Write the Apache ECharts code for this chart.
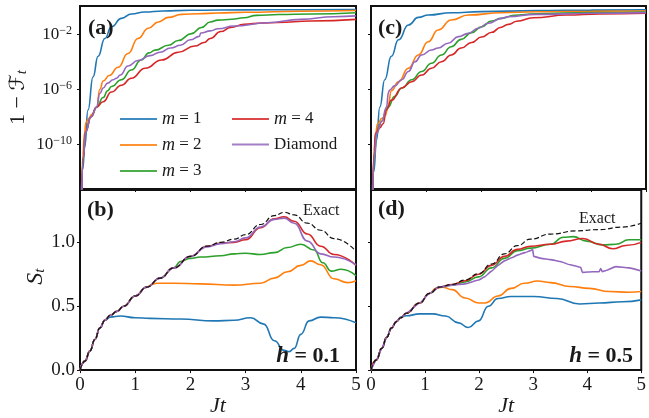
<!DOCTYPE html>
<html><head><meta charset="utf-8">
<script src="https://cdn.jsdelivr.net/npm/echarts@6/dist/echarts.min.js"></script>
<style>html,body{margin:0;padding:0;background:#fff}#c{width:649px;height:418px}</style>
</head><body><div id="c"></div>
<script>
// ---------- data ----------
const seriesNames = ['m = 1', 'm = 2', 'm = 3', 'm = 4', 'Diamond'];
const exactName = 'Exact';
const jtTicks = [0, 1, 2, 3, 4, 5];
const logTicks = [1e-10, 1e-6, 1e-2];
const sTicks = [0, 0.5, 1.0];

// panel (a): [Jt, log10(1 - F_t)]
const aM1 = [[0.02,-14],[0.05,-11.8],[0.085,-10.2],[0.145,-7.5],[0.236,-5.1],[0.327,-3.6],[0.45,-2.3],[0.57,-1.45],[0.75,-0.84],[0.93,-0.52],[1.17,-0.38],[1.5,-0.3],[2,-0.25],[3,-0.22],[4,-0.21],[5,-0.2]];
const aM2 = [[0.03,-14],[0.05,-10.8],[0.08,-9.2],[0.11,-8.4],[0.16,-8.1],[0.22,-7.8],[0.3,-7.3],[0.36,-6.0],[0.42,-5.4],[0.53,-5.0],[0.69,-4.4],[0.87,-3.4],[1.05,-2.3],[1.24,-1.56],[1.42,-1.1],[1.6,-0.77],[1.84,-0.55],[2.15,-0.5],[2.5,-0.45],[3,-0.4],[4,-0.32],[5,-0.27]];
const aM3 = [[0.03,-14],[0.06,-11],[0.1,-9.1],[0.2,-8.0],[0.3,-7.3],[0.42,-6.6],[0.5,-6.1],[0.57,-5.8],[0.75,-5.3],[0.93,-4.6],[1.11,-3.87],[1.25,-3.35],[1.36,-3.15],[1.6,-2.8],[1.78,-2.45],[2.02,-1.95],[2.2,-1.5],[2.36,-1.1],[2.5,-0.97],[2.75,-0.9],[2.97,-0.8],[3.2,-0.62],[3.6,-0.56],[4.18,-0.52],[5,-0.43]];
const aM4 = [[0.03,-14],[0.06,-11],[0.1,-9.1],[0.2,-8.0],[0.3,-7.3],[0.42,-6.9],[0.57,-6.2],[0.75,-5.7],[0.93,-5.2],[1.18,-4.47],[1.48,-3.87],[1.78,-3.3],[2.08,-2.85],[2.25,-2.6],[2.36,-2.3],[2.55,-1.8],[2.73,-1.5],[2.97,-1.27],[3.3,-1.18],[3.58,-1.14],[4.18,-1.03],[5,-0.91]];
const aDia = [[0.03,-14],[0.06,-11],[0.1,-9.1],[0.2,-8.0],[0.3,-7.3],[0.36,-6.3],[0.42,-5.9],[0.5,-5.55],[0.6,-5.3],[0.66,-5.2],[0.73,-4.96],[0.87,-4.3],[1.05,-3.9],[1.27,-3.55],[1.45,-3.3],[1.64,-3.0],[1.82,-2.8],[2.0,-2.4],[2.16,-2.15],[2.19,-1.9],[2.36,-1.75],[2.5,-1.6],[2.79,-1.4],[3.39,-1.16],[4.0,-0.91],[4.6,-0.72],[5,-0.66]];

// panel (c): [Jt, log10(1 - F_t)]
const cM1 = [[0.02,-14],[0.05,-12],[0.1,-9.7],[0.16,-7.3],[0.25,-5.3],[0.37,-3.6],[0.5,-2.4],[0.68,-1.32],[0.86,-0.77],[1.04,-0.6],[1.46,-0.43],[2,-0.35],[3,-0.28],[4,-0.24],[5,-0.22]];
const cM2 = [[0.03,-14],[0.05,-11],[0.08,-9.3],[0.12,-8.5],[0.2,-8.1],[0.26,-7.9],[0.31,-7.2],[0.37,-6.1],[0.5,-5.45],[0.68,-4.47],[0.86,-3.5],[1.04,-2.54],[1.22,-1.69],[1.46,-0.96],[1.77,-0.6],[2.37,-0.43],[3,-0.36],[4,-0.32],[5,-0.3]];
const cM3 = [[0.03,-14],[0.06,-11],[0.1,-9.2],[0.2,-8.3],[0.28,-7.5],[0.31,-7.3],[0.43,-6.5],[0.56,-5.9],[0.74,-5.3],[0.92,-4.7],[1.1,-4.1],[1.28,-3.5],[1.46,-2.9],[1.64,-2.37],[1.83,-1.88],[2.01,-1.45],[2.19,-1.03],[2.37,-0.84],[2.6,-0.62],[3,-0.5],[4,-0.42],[5,-0.38]];
const cM4 = [[0.03,-14],[0.06,-10.5],[0.08,-9.2],[0.16,-8.8],[0.22,-8.5],[0.28,-7.5],[0.37,-6.8],[0.56,-5.9],[0.74,-5.45],[0.92,-4.96],[1.1,-4.47],[1.28,-4.0],[1.46,-3.5],[1.64,-3.0],[1.83,-2.6],[2.01,-2.2],[2.2,-1.85],[2.35,-1.5],[2.5,-1.28],[2.65,-1.05],[2.95,-0.8],[3.56,-0.6],[4.16,-0.52],[5,-0.47]];
const cDia = [[0.03,-14],[0.06,-11],[0.1,-9.2],[0.2,-8.3],[0.28,-7.3],[0.32,-6.2],[0.34,-6.05],[0.43,-5.75],[0.56,-5.3],[0.68,-4.7],[0.8,-4.0],[0.92,-3.5],[1.1,-3.14],[1.22,-3.0],[1.4,-2.65],[1.59,-2.17],[1.77,-1.93],[1.95,-1.56],[2.13,-1.2],[2.37,-0.84],[2.49,-0.72],[3,-0.55],[4,-0.47],[5,-0.42]];

// panel (b), h = 0.1: [Jt, S_t]
const bExact = [[0,0],[0.09,0.07],[0.18,0.15],[0.27,0.24],[0.36,0.33],[0.45,0.39],[0.55,0.43],[0.67,0.46],[0.79,0.5],[1.0,0.58],[1.21,0.65],[1.45,0.72],[1.7,0.8],[2.0,0.89],[2.3,0.97],[2.55,1.0],[2.79,1.025],[3.0,1.06],[3.27,1.14],[3.52,1.21],[3.7,1.235],[3.88,1.215],[4.12,1.15],[4.36,1.095],[4.6,1.03],[5,0.93]];
const bM1 = [[0,0],[0.09,0.07],[0.18,0.15],[0.27,0.24],[0.36,0.33],[0.45,0.39],[0.55,0.415],[0.73,0.423],[1.0,0.41],[1.27,0.405],[1.82,0.40],[2.42,0.385],[2.79,0.39],[3.09,0.41],[3.33,0.36],[3.52,0.23],[3.7,0.155],[3.79,0.145],[3.88,0.17],[4.0,0.28],[4.15,0.385],[4.36,0.415],[4.6,0.41],[5,0.37]];
const bM2 = [[0,0],[0.09,0.07],[0.18,0.15],[0.27,0.24],[0.36,0.33],[0.45,0.39],[0.55,0.43],[0.67,0.46],[0.79,0.5],[1.0,0.58],[1.21,0.65],[1.3,0.67],[1.39,0.68],[1.7,0.68],[2.18,0.675],[2.79,0.665],[3.27,0.68],[3.52,0.72],[3.76,0.77],[4.0,0.82],[4.18,0.855],[4.36,0.825],[4.6,0.715],[4.85,0.685],[5,0.70]];
const bM3 = [[0,0],[0.09,0.07],[0.18,0.15],[0.27,0.24],[0.36,0.33],[0.45,0.39],[0.55,0.43],[0.67,0.46],[0.79,0.5],[1.0,0.58],[1.21,0.65],[1.45,0.72],[1.7,0.8],[1.82,0.85],[2.0,0.875],[2.18,0.885],[2.55,0.895],[2.79,0.91],[3.0,0.915],[3.27,0.905],[3.52,0.92],[3.76,0.96],[4.0,0.985],[4.24,0.94],[4.4,0.84],[4.55,0.775],[4.73,0.79],[5,0.74]];
const bM4 = [[0,0],[0.09,0.07],[0.18,0.15],[0.27,0.24],[0.36,0.33],[0.45,0.39],[0.55,0.43],[0.67,0.46],[0.79,0.5],[1.0,0.58],[1.21,0.65],[1.45,0.72],[1.7,0.8],[2.0,0.89],[2.3,0.97],[2.55,0.995],[2.79,1.0],[3.0,1.02],[3.27,1.115],[3.52,1.185],[3.7,1.2],[3.88,1.165],[4.12,1.065],[4.36,0.97],[4.6,0.905],[5,0.82]];
const bDia = [[0,0],[0.09,0.07],[0.18,0.15],[0.27,0.24],[0.36,0.33],[0.45,0.39],[0.55,0.43],[0.67,0.46],[0.79,0.5],[1.0,0.58],[1.21,0.65],[1.45,0.72],[1.7,0.8],[2.0,0.89],[2.3,0.965],[2.55,0.99],[2.79,1.005],[3.0,1.035],[3.27,1.12],[3.52,1.18],[3.7,1.19],[3.88,1.15],[4.12,1.01],[4.36,0.91],[4.6,0.885],[5,0.825]];

// panel (d), h = 0.5: [Jt, S_t]
const dExact = [[0,0],[0.1,0.08],[0.2,0.17],[0.29,0.256],[0.38,0.33],[0.47,0.38],[0.55,0.41],[0.65,0.445],[0.9,0.525],[1.08,0.6],[1.26,0.65],[1.5,0.67],[1.74,0.705],[1.99,0.755],[2.23,0.83],[2.47,0.91],[2.71,0.975],[2.95,1.025],[3.32,1.065],[3.8,1.09],[4.22,1.10],[4.65,1.12],[5,1.15]];
const dM1 = [[0,0],[0.1,0.08],[0.2,0.17],[0.29,0.256],[0.38,0.33],[0.47,0.38],[0.55,0.415],[0.65,0.425],[0.9,0.44],[1.14,0.44],[1.38,0.423],[1.62,0.37],[1.8,0.333],[1.99,0.385],[2.17,0.5],[2.35,0.56],[2.59,0.576],[3.01,0.576],[3.44,0.56],[3.86,0.518],[4.22,0.525],[4.65,0.535],[5,0.55]];
const dM2 = [[0,0],[0.1,0.08],[0.2,0.17],[0.29,0.256],[0.38,0.33],[0.47,0.38],[0.55,0.41],[0.65,0.445],[0.9,0.525],[1.08,0.6],[1.2,0.64],[1.32,0.65],[1.5,0.63],[1.74,0.565],[1.99,0.525],[2.11,0.525],[2.35,0.58],[2.59,0.64],[2.84,0.68],[3.08,0.697],[3.32,0.685],[3.68,0.655],[4.04,0.64],[4.41,0.615],[4.77,0.61],[5,0.615]];
const dM3 = [[0,0],[0.1,0.08],[0.2,0.17],[0.29,0.256],[0.38,0.33],[0.47,0.38],[0.55,0.41],[0.65,0.445],[0.9,0.525],[1.08,0.6],[1.26,0.65],[1.5,0.665],[1.74,0.69],[1.99,0.73],[2.23,0.8],[2.47,0.875],[2.71,0.935],[2.95,0.955],[3.32,0.985],[3.56,1.04],[3.74,1.045],[3.99,1.01],[4.28,0.98],[4.53,0.985],[4.77,1.02],[5,1.02]];
const dM4 = [[0,0],[0.1,0.08],[0.2,0.17],[0.29,0.256],[0.38,0.33],[0.47,0.38],[0.55,0.41],[0.65,0.445],[0.9,0.525],[1.08,0.6],[1.26,0.65],[1.5,0.67],[1.74,0.7],[1.99,0.75],[2.23,0.82],[2.47,0.89],[2.71,0.945],[2.95,0.97],[3.32,0.985],[3.62,1.01],[3.92,1.03],[4.22,0.985],[4.47,0.95],[4.71,0.975],[5,1.0]];
const dDia = [[0,0],[0.1,0.08],[0.2,0.17],[0.29,0.256],[0.38,0.33],[0.47,0.38],[0.55,0.41],[0.65,0.445],[0.9,0.525],[1.08,0.6],[1.26,0.65],[1.5,0.665],[1.74,0.675],[1.99,0.705],[2.1,0.73],[2.23,0.775],[2.35,0.82],[2.47,0.855],[2.6,0.88],[2.71,0.9],[2.85,0.92],[2.95,0.935],[2.99,0.945],[3.01,0.89],[3.15,0.875],[3.32,0.865],[3.5,0.85],[3.68,0.825],[3.88,0.805],[3.91,0.765],[4.1,0.77],[4.22,0.77],[4.25,0.795],[4.28,0.77],[4.35,0.78],[4.53,0.81],[4.77,0.80],[5,0.775]];

// ---------- styling ----------
const colors = ['#1f77b4', '#ff7f0e', '#2ca02c', '#d62728', '#9467bd'];
const FONT = '"Liberation Serif", "DejaVu Serif", serif';
const INK = '#1a1a1a';

const grids = [
  {left: 80, top: 6, width: 276, height: 183},    // (a)
  {left: 80, top: 190, width: 276, height: 183},  // (b)
  {left: 371, top: 6, width: 275, height: 183},   // (c)
  {left: 371, top: 190, width: 275, height: 183}  // (d)
].map(g => Object.assign({show: true, borderColor: '#111', borderWidth: 2, backgroundColor: 'transparent'}, g));

function xAxisFor(i, bottom) {
  return {
    gridIndex: i, type: 'value', min: 0, max: 5, interval: 1,
    axisLine: {show: false}, splitLine: {show: false},
    axisTick: {show: true, inside: false, length: 3, lineStyle: {color: '#111', width: 1}},
    axisLabel: {show: bottom, margin: 5, fontFamily: FONT, fontSize: 19, color: INK,
      showMinLabel: true, showMaxLabel: true},
    name: bottom ? 'Jt' : '', nameLocation: 'middle', nameGap: 22,
    nameTextStyle: {fontFamily: FONT, fontSize: 22, fontStyle: 'italic', color: INK}
  };
}
function logLabel(v) {
  const e = Math.round(Math.log10(v));
  return '{b|10}{sup|' + (e < 0 ? '\u2212' : '') + Math.abs(e) + '}';
}
function topY(i, left) {
  return {
    gridIndex: i, type: 'log', logBase: 10, min: Math.pow(10, -13.25), max: Math.pow(10, 0.06),
    axisLine: {show: false}, splitLine: {show: false}, minorTick: {show: false},
    axisTick: {show: true, inside: false, length: 3, customValues: logTicks, lineStyle: {color: '#111', width: 1}},
    axisLabel: {show: left, customValues: logTicks, margin: 8, formatter: logLabel, color: INK,
      rich: {
        b: {fontFamily: FONT, fontSize: 17, color: INK, verticalAlign: 'bottom', lineHeight: 18},
        sup: {fontFamily: FONT, fontSize: 12, color: INK, verticalAlign: 'top', lineHeight: 12, padding: [0, 0, 6, 0]}
      }},
    name: left ? '{n|1 \u2212 }{f|\u2131}{s|t}' : '', nameLocation: 'middle', nameRotate: 90, nameGap: 50,
    nameTextStyle: {color: INK, rich: {
      n: {fontFamily: FONT, fontSize: 22, color: INK},
      f: {fontFamily: '"DejaVu Serif", "DejaVu Sans", serif', fontSize: 21, fontStyle: 'italic', color: INK},
      s: {fontFamily: FONT, fontSize: 15, fontStyle: 'italic', color: INK, verticalAlign: 'bottom', padding: [8, 0, 0, 0]}
    }}
  };
}
function botY(i, left) {
  return {
    gridIndex: i, type: 'value', min: 0, max: 1.41,
    axisLine: {show: false}, splitLine: {show: false},
    axisTick: {show: true, inside: false, length: 3, customValues: sTicks, lineStyle: {color: '#111', width: 1}},
    axisLabel: {show: left, customValues: sTicks, margin: 5, fontFamily: FONT, fontSize: 19, color: INK,
      formatter: v => Number(v).toFixed(1)},
    name: left ? '{S|S}{s|t}' : '', nameLocation: 'middle', nameRotate: 90, nameGap: 30,
    nameTextStyle: {color: INK, padding: [0, 0, 0, 7], rich: {
      S: {fontFamily: FONT, fontSize: 24, fontStyle: 'italic', color: INK},
      s: {fontFamily: FONT, fontSize: 15, fontStyle: 'italic', color: INK, verticalAlign: 'bottom', padding: [8, 0, 0, 0]}
    }}
  };
}

function lineSeries(name, data, idx, color, opts) {
  return Object.assign({
    type: 'line', name: name, xAxisIndex: idx, yAxisIndex: idx, data: data,
    symbol: 'none', showSymbol: false, smooth: 0.5, smoothMonotone: 'x', clip: true,
    lineStyle: {color: color, width: 1.6}, itemStyle: {color: color}, animation: false
  }, opts || {});
}
const toLog = arr => arr.map(p => [p[0], Math.pow(10, p[1])]);

const topA = [aM1, aM2, aM3, aM4, aDia];
const topC = [cM1, cM2, cM3, cM4, cDia];
const botB = [bM1, bM2, bM3, bM4, bDia];
const botD = [dM1, dM2, dM3, dM4, dDia];

const series = [];
topA.forEach((d, k) => series.push(lineSeries(seriesNames[k], toLog(d), 0, colors[k])));
botB.forEach((d, k) => series.push(lineSeries(seriesNames[k], d, 1, colors[k])));
series.push(lineSeries(exactName, bExact, 1, '#111', {lineStyle: {color: '#111', width: 1.2, type: [5, 2.5]}, z: 5}));
topC.forEach((d, k) => series.push(lineSeries(seriesNames[k], toLog(d), 2, colors[k])));
botD.forEach((d, k) => series.push(lineSeries(seriesNames[k], d, 3, colors[k], k === 4 ? {smooth: 0.15} : {})));
series.push(lineSeries(exactName, dExact, 3, '#111', {lineStyle: {color: '#111', width: 1.2, type: [5, 2.5]}, z: 5}));

const legendText = {fontFamily: FONT, fontSize: 17, color: INK, lineHeight: 14,
  rich: {i: {fontFamily: FONT, fontSize: 18, fontStyle: 'italic', color: INK, lineHeight: 14}}};
const legendFmt = n => n.startsWith('m') ? '{i|m}' + n.slice(1) : n;
const legendBase = {orient: 'vertical', top: 110, icon: 'rect', itemWidth: 37, itemHeight: 2, itemGap: 8, itemTextGap: 13,
  padding: 0, selectedMode: false, textStyle: legendText, formatter: legendFmt, itemStyle: {opacity: 0.85}};

function label(text, x, y, font, align) {
  return {type: 'text', x: x, y: y, z: 100,
    style: {text: text, font: font, fill: INK, align: align || 'left', verticalAlign: 'middle'}};
}
function hLabel(val, xRight, y) {
  return {type: 'text', x: xRight, y: y, z: 100,
    style: {text: '{h|h} = ' + val, font: 'bold 22px ' + FONT, fill: INK, align: 'right', verticalAlign: 'middle',
      rich: {h: {font: 'italic bold 23px ' + FONT, fill: INK}}}};
}

const option = {
  backgroundColor: '#fff',
  animation: false,
  grid: grids,
  xAxis: [xAxisFor(0, false), xAxisFor(1, true), xAxisFor(2, false), xAxisFor(3, true)],
  yAxis: [topY(0, true), botY(1, true), topY(2, false), botY(3, false)],
  legend: [
    Object.assign({}, legendBase, {left: 120, data: seriesNames.slice(0, 3)}),
    Object.assign({}, legendBase, {left: 232, data: seriesNames.slice(3)})
  ],
  series: series,
  graphic: [
    label('(a)', 88, 28, 'bold 22px ' + FONT),
    label('(b)', 87, 210, 'bold 22px ' + FONT),
    label('(c)', 378, 28, 'bold 22px ' + FONT),
    label('(d)', 378, 209, 'bold 22px ' + FONT),
    label('Exact', 303, 211, '16px ' + FONT),
    label('Exact', 579, 219, '16px ' + FONT),
    hLabel('0.1', 340, 356),
    hLabel('0.5', 633, 356)
  ]
};

const chart = echarts.init(document.getElementById('c'), null, {renderer: 'canvas'});
chart.setOption(option);
</script>
</body></html>
